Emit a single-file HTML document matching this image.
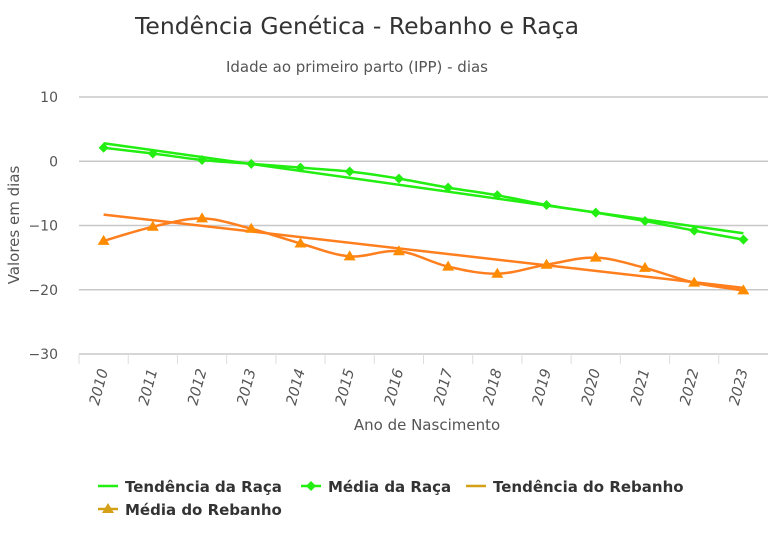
<!DOCTYPE html>
<html><head><meta charset="utf-8"><style>
body{margin:0;background:#fff;font-family:"DejaVu Sans","Liberation Sans",sans-serif;}
svg text{font-family:"DejaVu Sans","Liberation Sans",sans-serif;}
</style></head><body>
<svg id="c" width="768" height="539">
<text x="357" y="34" text-anchor="middle" font-size="23.5" fill="#333">Tendência Genética - Rebanho e Raça</text>
<text x="357" y="72" text-anchor="middle" font-size="15" fill="#555">Idade ao primeiro parto (IPP) - dias</text>
<text transform="translate(19,225) rotate(-90)" text-anchor="middle" font-size="15" fill="#555">Valores em dias</text>
<text x="427" y="430" text-anchor="middle" font-size="15" fill="#555">Ano de Nascimento</text>
<g id="grid"></g><g id="series"></g><g id="legend"></g>
</svg>
<script>
const categories=["2010","2011","2012","2013","2014","2015","2016","2017","2018","2019","2020","2021","2022","2023"];
const yTicks=[10,0,-10,-20,-30];
const racaMedia=[2.1,1.2,0.2,-0.4,-1.0,-1.6,-2.7,-4.1,-5.3,-6.8,-8.0,-9.3,-10.8,-12.2];
const racaTrend=[2.8,-11.2];
const rebMedia=[-12.4,-10.2,-8.9,-10.5,-12.8,-14.8,-14.0,-16.4,-17.5,-16.1,-15.0,-16.6,-18.9,-20.1];
const rebTrend=[-8.3,-19.7];
const NS="http://www.w3.org/2000/svg";
const L=79,R=768,T=97,B=354;
const bw=(R-L)/categories.length;
const x=i=>L+bw*(i+0.5);
const y=v=>T+(10-v)/40*(B-T);
function mk(tag,attrs,parent){const e=document.createElementNS(NS,tag);for(const k in attrs)e.setAttribute(k,attrs[k]);parent.appendChild(e);return e;}
const grid=document.getElementById('grid'),S=document.getElementById('series'),Lg=document.getElementById('legend');
yTicks.forEach(t=>{
  const g=mk('line',{x1:L,x2:R,y1:y(t),y2:y(t),stroke:'#c8c8c8','stroke-width':1.5},grid);
  
  
  const tx=mk('text',{x:58,y:y(t)+5,'text-anchor':'end','font-size':14,fill:'#555'},grid);
  tx.textContent=t===-10?'−10':t===-20?'−20':t===-30?'−30':String(t);
  
  
});
categories.forEach((c,i)=>{
  const tk=mk('line',{x1:L+bw*i,x2:L+bw*i,y1:B,y2:B+10,stroke:'#ddd'},grid);
  
  
  const tx=mk('text',{transform:`translate(${x(i)-5},${B+52}) rotate(-75)`,'font-size':14.5,fill:'#555','font-style':'italic'},grid);
  tx.textContent=c;
  
  
});
function spline(vals){
  const p=vals.map((v,i)=>[x(i),y(v)]);
  let d=`M${p[0][0]},${p[0][1]}`;
  for(let i=0;i<p.length-1;i++){
    const p0=p[i-1]||p[i],p1=p[i],p2=p[i+1],p3=p[i+2]||p2;
    const c1=[p1[0]+(p2[0]-p0[0])/6,p1[1]+(p2[1]-p0[1])/6],c2=[p2[0]-(p3[0]-p1[0])/6,p2[1]-(p3[1]-p1[1])/6];
    d+=`C${c1[0]},${c1[1]} ${c2[0]},${c2[1]} ${p2[0]},${p2[1]}`;
  }
  return d;
}
let e;
e=mk('line',{x1:x(0),y1:y(racaTrend[0]),x2:x(13),y2:y(racaTrend[1]),stroke:'#22ee11','stroke-width':2.5},S);


e=mk('path',{d:spline(racaMedia),fill:'none',stroke:'#22ee11','stroke-width':2.5},S);


racaMedia.forEach((v,i)=>{
  const m=mk('path',{d:`M${x(i)},${y(v)-5}l5,5l-5,5l-5,-5z`,fill:'#22ee11'},S);
  
  
});
e=mk('line',{x1:x(0),y1:y(rebTrend[0]),x2:x(13),y2:y(rebTrend[1]),stroke:'#ff7f1e','stroke-width':2.5},S);


e=mk('path',{d:spline(rebMedia),fill:'none',stroke:'#ff7f1e','stroke-width':2.5},S);


rebMedia.forEach((v,i)=>{
  const m=mk('path',{d:`M${x(i)},${y(v)-6}l6,10h-12z`,fill:'#ff8c00'},S);
  
  
});
const items=[["Tendência da Raça",98,486,'#22ee11','line'],["Média da Raça",301,486,'#22ee11','diamond'],["Tendência do Rebanho",466,486,'#d4a017','line'],["Média do Rebanho",98,509,'#d4a017','tri']];
items.forEach(([t,lx,ly,col,k])=>{
  const g=mk('g',{},Lg);
  
  
  mk('line',{x1:lx,x2:lx+20,y1:ly,y2:ly,stroke:col,'stroke-width':2.5},g);
  if(k==='diamond')mk('path',{d:`M${lx+10},${ly-5}l5,5l-5,5l-5,-5z`,fill:col},g);
  if(k==='tri')mk('path',{d:`M${lx+10},${ly-6}l6,10h-12z`,fill:col},g);
  const tx=mk('text',{x:lx+27,y:ly+6,'font-size':15,'font-weight':'bold',fill:'#333'},g);
  tx.textContent=t;
});
</script>
</body></html>
